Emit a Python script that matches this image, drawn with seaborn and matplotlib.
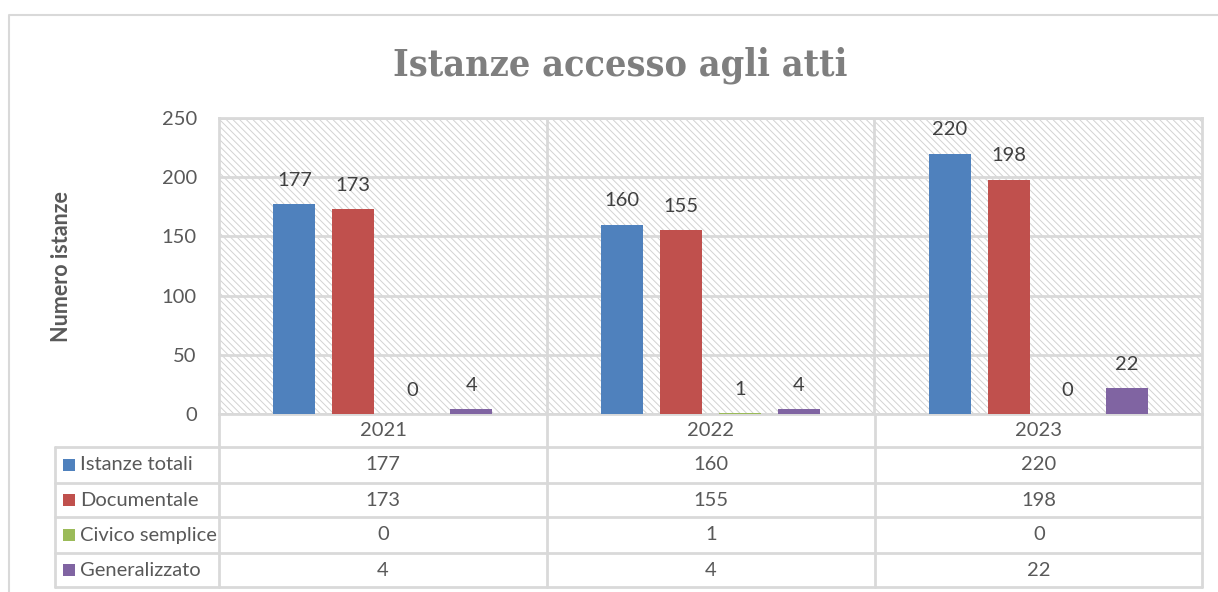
import matplotlib
matplotlib.use("Agg")
import matplotlib.pyplot as plt
from matplotlib.patches import Rectangle
from matplotlib.lines import Line2D
import seaborn as sns
import pandas as pd

# ---- data ----
years = ["2021", "2022", "2023"]
series = ["Istanze totali", "Documentale", "Civico semplice", "Generalizzato"]
istanze_totali = [177, 160, 220]
documentale = [173, 155, 198]
civico_semplice = [0, 1, 0]
generalizzato = [4, 4, 22]
colors = ["#4F81BD", "#C0504D", "#9BBB59", "#8064A2"]
title = "Istanze accesso agli atti"
ylabel = "Numero istanze"
yticks = [0, 50, 100, 150, 200, 250]

values = [istanze_totali, documentale, civico_semplice, generalizzato]
rows = []
for s, vals in zip(series, values):
    for y, v in zip(years, vals):
        rows.append({"anno": y, "tipo": s, "valore": v})
df = pd.DataFrame(rows)

W, H = 1218, 592
sns.set_theme(style="white")
plt.rcParams["font.family"] = ["Lato", "DejaVu Sans"]
plt.rcParams["hatch.linewidth"] = 0.7
plt.rcParams["hatch.color"] = "#d2d2d2"

fig = plt.figure(figsize=(W / 100, H / 100), dpi=100)
fig.patch.set_facecolor("white")

def fx(x):
    return x / W

def fy(y):
    return 1 - y / H

ax_l, ax_r, ax_t, ax_b = 219, 1202, 118, 414
ax = fig.add_axes([fx(ax_l), fy(ax_b), fx(ax_r - ax_l), (ax_b - ax_t) / H])

grid_c = "#d9d9d9"
txt_c = "#595959"
lab_c = "#404040"

# hatched background
bg = Rectangle((0, 0), 1, 1, transform=ax.transAxes, facecolor="white",
               edgecolor="#d2d2d2", hatch="\\\\\\\\\\", lw=0, zorder=0)
ax.add_patch(bg)
ax.patch.set_alpha(0)

sns.barplot(data=df, x="anno", y="valore", hue="tipo", hue_order=series,
            order=years, palette=colors, saturation=1, width=0.72, gap=0.29,
            ax=ax, legend=False, zorder=3, linewidth=0)

ax.set_ylim(0, 250)
ax.set_xlim(-0.5, 2.5)
ax.set_yticks(yticks)
ax.set_yticklabels([str(t) for t in yticks], fontsize=14.5, color=txt_c)
ax.tick_params(axis="y", length=0, pad=16)
ax.set_xticks([])
ax.set_xlabel("")
ax.set_ylabel("")
for t in yticks:
    ax.axhline(t, color=grid_c, lw=2, zorder=1)
for xv in [0.5, 1.5]:
    ax.axvline(xv, color=grid_c, lw=2, zorder=1)
for sp in ax.spines.values():
    sp.set_color(grid_c)
    sp.set_linewidth(2)

for cont, vals in zip(ax.containers, values):
    ax.bar_label(cont, labels=[str(v) for v in vals], padding=11,
                 fontsize=14.5, color=lab_c)

# y label
fig.text(fx(61), fy(267), ylabel, rotation=90, ha="center", va="center",
         fontsize=15.5, fontweight="bold", color=txt_c)

# title
fig.text(fx(620), fy(75), title, ha="center", va="baseline",
         fontsize=27, fontweight="bold", color="#7f7f7f",
         family=["DejaVu Serif"], fontstretch="condensed")

# outer chart border
fig.add_artist(Line2D([fx(9), fx(9), fx(1218)], [fy(592), fy(15), fy(15)],
                      transform=fig.transFigure, color=grid_c, lw=1.5))

# data table
row_lines = [447, 483, 517, 553, 587]
for yy in row_lines:
    fig.add_artist(Line2D([fx(55), fx(ax_r)], [fy(yy), fy(yy)],
                          transform=fig.transFigure, color=grid_c, lw=2))
fig.add_artist(Line2D([fx(55), fx(55)], [fy(447), fy(587)],
                      transform=fig.transFigure, color=grid_c, lw=2))
for xx in [219, 547, 875, 1202]:
    fig.add_artist(Line2D([fx(xx), fx(xx)], [fy(414), fy(587)],
                          transform=fig.transFigure, color=grid_c, lw=2))

col_centers = [383, 711, 1039]
for yr, cx in zip(years, col_centers):
    fig.text(fx(cx), fy(431), yr, ha="center", va="center",
             fontsize=14.5, color=txt_c)

row_centers = [465, 500, 535, 570]
for s, c, vals, cy in zip(series, colors, values, row_centers):
    fig.add_artist(Rectangle((fx(63), fy(cy + 6)), fx(12), 12 / H,
                             transform=fig.transFigure, facecolor=c, lw=0))
    fig.text(fx(80), fy(cy), s, ha="left", va="center", fontsize=14.5,
             color=txt_c)
    for v, cx in zip(vals, col_centers):
        fig.text(fx(cx), fy(cy), str(v), ha="center", va="center",
                 fontsize=14.5, color=txt_c)

fig.savefig("out.png", dpi=100, facecolor="white")
